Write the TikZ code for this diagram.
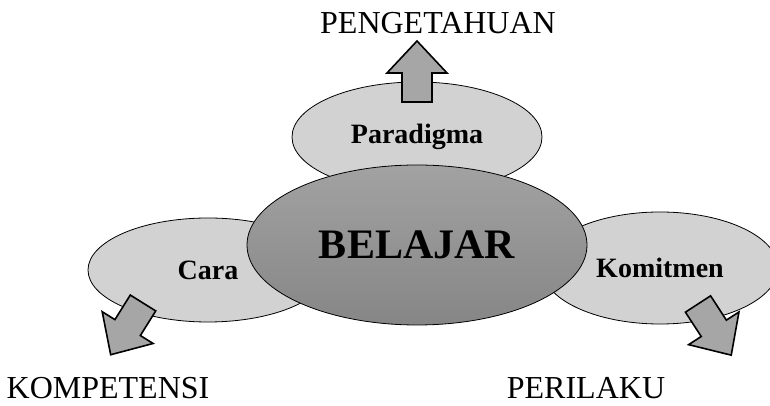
\documentclass[tikz,border=0pt]{standalone}
\usepackage{fontspec}
\setmainfont{Liberation Serif}
\usetikzlibrary{shapes.geometric}
\definecolor{ovalgray}{HTML}{D2D2D2}
\definecolor{arrowgray}{HTML}{A6A6A6}
\definecolor{coretop}{HTML}{A2A2A2}
\definecolor{corebottom}{HTML}{868686}
\tikzset{
  oval/.style={%
    ellipse, draw, line width=.8pt, fill=ovalgray, inner sep=0pt,
    font=\bfseries\fontsize{28}{32}\selectfont,
  },
  coreoval/.style={%
    oval, top color=coretop, bottom color=corebottom,
    font=\bfseries\fontsize{42}{46}\selectfont,
  },
  outcome/.style={inner sep=0pt, font=\fontsize{32}{36}\selectfont},
  blockarrow/.pic={
    \draw[line width=1.6pt, fill=arrowgray, line join=miter]
    (0,-15) -- (29,-15) -- (29,-30) -- (61,0) -- (29,30) -- (29,15) -- (0,15) -- cycle;
  },
}

\begin{document}
\begin{tikzpicture}[x=1pt,y=1pt]
\useasboundingbox (0,0) rectangle (770,406);
\node[oval, minimum width=250, minimum height=110] (paradigma) at (417,269) {Paradigma};
\node[oval, minimum width=240, minimum height=104] (cara) at (208,136) {Cara};
\node[oval, minimum width=236, minimum height=112] (komitmen) at (660,138) {Komitmen};
% arrows out of the ovals
\pic[rotate=90] at (417,304) {blockarrow};
\pic[rotate=238] at (143,103) {blockarrow};
\pic[rotate=-57] at (698,102) {blockarrow};
\node[coreoval, minimum width=340, minimum height=160] (belajar) at (417,161) {BELAJAR};
\node[outcome] (pengetahuan) at (438,383) {PENGETAHUAN};
\node[outcome] (kompetensi) at (108,18) {KOMPETENSI};
\node[outcome] (perilaku) at (586,18) {PERILAKU};
\end{tikzpicture}
\end{document}
